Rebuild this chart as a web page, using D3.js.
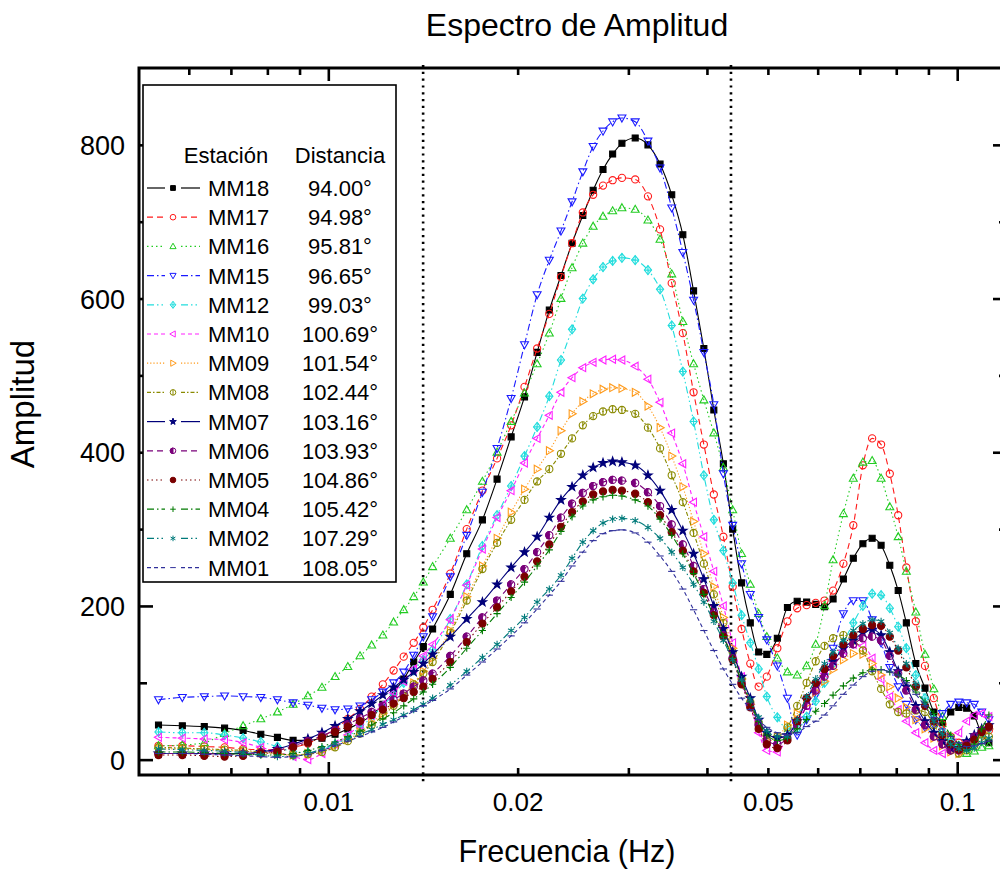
<!DOCTYPE html>
<html><head><meta charset="utf-8">
<script src="https://cdn.jsdelivr.net/npm/d3@7"></script>
<style>
body{margin:0;background:#fff}
svg{display:block}
text{font-family:"Liberation Sans",Arial,sans-serif;fill:#000}
</style>
</head><body>
<svg id="c" width="1000" height="869"></svg>
<script>
// ---------- data ----------
const freqs = [0.00537,0.00586,0.00635,0.00684,0.00732,0.00781,0.00830,0.00879,0.00928,0.00977,
0.01025,0.01074,0.01123,0.01172,0.01221,0.01270,0.01318,0.01367,0.01416,0.01465,
0.01563,0.01660,0.01758,0.01855,0.01953,0.02051,0.02148,0.02246,0.02344,0.02441,0.02539,0.02637,0.02734,0.02832,0.02930,
0.03076,0.03223,0.03369,0.03516,0.03662,0.03809,0.03955,0.04102,0.04248,0.04395,0.04541,0.04688,0.04834,0.04980,0.05176,0.05371,
0.05566,0.05762,0.05957,0.06152,0.06348,0.06592,0.06836,0.07080,0.07324,0.07568,0.07813,0.08057,0.08301,0.08594,0.08887,0.09180,0.09473,0.09766,0.10059,0.10352,0.10645,0.10938,0.11230];

const MM18 = [45,44,43,41,38,33,29,25,25,28,33,40,48,58,72,88,105,127,147,170,
215,268,312,365,420,472,530,585,630,672,708,741,768,788,802,
809,800,775,735,683,610,535,455,385,300,230,178,140,137,158,198,
206,205,202,199,209,235,262,281,288,279,253,220,178,125,93,62,48,62,68,67,57,33,22];
const MM17 = [18,18,17,16,14,13,13,16,21,30,40,53,66,82,98,116,134,152,172,195,
242,300,350,392,435,485,535,580,628,672,712,735,747,754,757,
755,733,690,620,555,478,410,345,290,225,170,125,95,108,145,180,
197,201,204,207,220,255,305,383,418,410,372,318,250,180,122,80,46,30,22,21,25,32,38];
const MM16 = [18,19,22,34,44,53,62,72,83,94,108,121,135,149,162,179,195,212,231,251,
288,325,362,400,440,477,515,555,600,640,672,694,707,714,718,
716,702,677,632,570,515,468,425,380,325,268,228,190,160,132,114,
110,122,150,200,260,320,366,387,389,366,329,290,245,192,137,92,56,29,15,8,11,16,18];
const MM15 = [78,81,82,83,82,81,78,74,71,67,65,66,70,78,88,100,114,136,160,186,
238,292,348,405,470,540,605,650,688,726,765,798,818,830,835,
830,805,770,718,660,598,530,462,372,305,255,215,185,156,122,80,
32,52,84,114,145,190,207,207,182,152,120,95,72,52,42,45,60,72,75,74,72,62,52];
const MM12 = [36,35,35,32,28,23,17,10,9,13,20,30,42,55,70,85,100,116,130,143,
183,228,278,318,356,395,433,473,520,560,600,625,641,649,653,
650,637,612,565,505,440,370,312,272,230,188,152,118,82,55,40,
40,56,76,100,125,152,178,200,216,214,197,173,145,110,80,53,36,23,18,17,21,32,40];
const MM10 = [29,28,27,26,22,16,10,4,0,8,20,32,45,58,72,87,102,118,135,150,
182,227,274,315,350,386,418,448,478,497,510,517,520,521,520,
512,495,465,425,385,335,290,245,200,152,108,70,35,12,10,30,
50,70,92,112,128,142,150,148,132,105,82,65,50,35,22,12,8,14,35,50,58,60,56];
const MM09 = [14,14,13,12,11,9,7,6,8,12,18,26,36,48,60,72,85,100,115,132,
168,212,252,288,322,352,378,402,428,450,466,476,482,484,483,
478,460,432,395,355,310,268,225,185,145,105,72,42,25,30,45,
60,72,88,102,117,130,138,137,125,110,95,80,68,52,40,28,18,10,8,18,28,35,40];
const MM08 = [16,15,14,13,12,10,8,6,7,10,16,24,34,45,57,70,83,98,112,127,
165,207,248,282,312,338,362,378,398,418,435,447,453,456,455,
450,432,405,370,335,295,255,215,178,140,105,75,48,32,30,42,
70,100,128,148,158,162,155,142,115,92,72,62,60,64,62,45,28,12,8,12,18,25,30];
const MM07 = [8,8,8,8,8,10,14,20,27,35,44,53,63,73,84,94,104,114,125,137,
160,183,205,228,250,270,290,315,338,355,370,380,386,388,387,
383,370,350,325,298,268,235,200,170,140,108,80,52,35,28,32,
50,78,98,115,128,145,155,165,169,162,140,115,95,70,50,35,24,15,15,24,32,40,45];
const MM06 = [8,8,8,7,7,9,12,18,24,31,38,46,54,62,70,78,86,95,103,112,
135,160,185,207,228,248,270,292,315,333,347,356,361,364,363,
360,348,330,306,280,252,222,192,162,132,100,72,45,25,20,28,
45,70,90,108,122,138,150,158,160,155,135,112,90,65,45,30,20,12,12,20,30,38,42];
const MM05 = [6,6,5,4,5,8,10,16,22,29,36,43,50,58,65,73,80,88,95,105,
127,153,177,198,219,238,258,280,303,322,336,345,349,351,350,
346,335,318,296,272,245,217,188,160,130,98,68,40,20,15,25,
50,80,100,118,135,150,162,170,175,174,160,142,120,95,70,50,32,20,13,18,26,36,43];
const MM04 = [10,10,9,8,7,6,6,8,12,17,23,30,37,45,53,61,70,79,88,98,
120,145,168,190,211,231,252,273,297,316,330,338,342,344,343,
338,330,313,292,268,242,215,187,160,132,102,75,50,32,25,28,
40,52,63,73,84,96,106,113,117,117,114,110,103,88,75,60,48,32,20,12,20,40,58];
const MM02 = [14,13,12,11,9,6,4,4,8,14,21,27,33,39,46,52,58,65,72,80,
97,115,133,150,168,185,205,222,240,262,283,298,308,313,314,
311,302,288,270,250,228,205,180,155,130,104,78,55,38,30,30,
52,82,105,125,140,155,168,177,182,180,165,145,125,98,72,50,33,20,14,12,15,22,28];
const MM01 = [8,8,7,6,5,4,3,4,7,12,18,24,30,36,42,49,56,63,70,77,
92,110,127,144,161,178,196,214,232,252,270,285,294,298,299,
295,283,265,245,222,195,168,142,118,98,80,65,52,42,35,32,
35,43,50,58,70,85,97,108,115,117,114,110,100,85,70,55,40,30,22,17,18,21,24];

const stations  = ["MM18","MM17","MM16","MM15","MM12","MM10","MM09","MM08","MM07","MM06","MM05","MM04","MM02","MM01"];
const distances = ["94.00°","94.98°","95.81°","96.65°","99.03°","100.69°","101.54°","102.44°","103.16°","103.93°","104.86°","105.42°","107.29°","108.05°"];
const seriesValues = [MM18,MM17,MM16,MM15,MM12,MM10,MM09,MM08,MM07,MM06,MM05,MM04,MM02,MM01];

const xLabelTicks = [0.01,0.02,0.05,0.1];
const xLabelText  = ["0.01","0.02","0.05","0.1"];
const xMajorTicks = [0.01,0.1];
const xMinorTicks = [0.006,0.007,0.008,0.009,0.02,0.03,0.04,0.05,0.06,0.07,0.08,0.09];
const yMajorTicks = [0,200,400,600,800];
const yMinorTicks = [100,300,500,700];
const refFreqs = [0.01415,0.04368];

// ---------- styles ----------
const styles = [
 {c:"#000000", dash:null,                 m:"square"},
 {c:"#ff1a1a", dash:"6,4",                m:"circle"},
 {c:"#22cc22", dash:"1.5,3",              m:"triUp"},
 {c:"#1a1aff", dash:"7,3,1.5,3",          m:"triDown"},
 {c:"#22dddd", dash:"7,3,1.5,3,1.5,3",    m:"diamond"},
 {c:"#ff22ff", dash:"4,3",                m:"triLeft"},
 {c:"#ff9a1a", dash:"1.2,2",              m:"triRight"},
 {c:"#8a8a00", dash:"4,2,1.5,2",          m:"circBar"},
 {c:"#00007a", dash:null,                 m:"star"},
 {c:"#7a007a", dash:"6,4",                m:"half"},
 {c:"#7a0000", dash:"1.5,3",              m:"dot"},
 {c:"#007a00", dash:"7,3,1.5,3",          m:"plus"},
 {c:"#007a7a", dash:"7,3,1.5,3,1.5,3",    m:"aster"},
 {c:"#30309a", dash:"4,3",                m:"dash"}
];

function markerParts(type, r){
  const circ = `M${r},0A${r},${r} 0 1,1 ${-r},0A${r},${r} 0 1,1 ${r},0Z`;
  switch(type){
    case "square": return [{d:`M${-r},${-r}h${2*r}v${2*r}h${-2*r}Z`, fill:true}];
    case "circle": return [{d:circ, fill:false}];
    case "dot": return [{d:circ, fill:true}];
    case "triUp": return [{d:`M0,${-r*1.15}L${r*1.1},${r*0.8}L${-r*1.1},${r*0.8}Z`, fill:false}];
    case "triDown": return [{d:`M0,${r*1.15}L${r*1.1},${-r*0.8}L${-r*1.1},${-r*0.8}Z`, fill:false}];
    case "triLeft": return [{d:`M${-r*1.15},0L${r*0.8},${-r*1.1}L${r*0.8},${r*1.1}Z`, fill:false}];
    case "triRight": return [{d:`M${r*1.15},0L${-r*0.8},${-r*1.1}L${-r*0.8},${r*1.1}Z`, fill:false}];
    case "diamond": return [{d:`M0,${-r*1.25}L${r},0L0,${r*1.25}L${-r},0Z`, fill:false},{d:`M0,${-r*1.25}V${r*1.25}M${-r},0H${r}`, fill:false}];
    case "circBar": return [{d:circ, fill:false},{d:`M0,${-r}V${r}`, fill:false}];
    case "half": return [{d:circ, fill:false},{d:`M0,${-r}A${r},${r} 0 0,0 0,${r}Z`, fill:true}];
    case "star": {
      let p=""; for(let i=0;i<10;i++){const a=-Math.PI/2+i*Math.PI/5; const rr=i%2?r*0.5:r*1.25; p+=(i?"L":"M")+(rr*Math.cos(a)).toFixed(2)+","+(rr*Math.sin(a)).toFixed(2);} 
      return [{d:p+"Z", fill:true}];
    }
    case "plus": return [{d:`M${-r},0H${r}M0,${-r}V${r}`, fill:false}];
    case "aster": {const a=r*0.87,b=r*0.5; return [{d:`M0,${-r}V${r}M${-a},${-b}L${a},${b}M${-a},${b}L${a},${-b}`, fill:false}];}
    case "dash": return [{d:`M${-r},0H${r}`, fill:false}];
  }
}

// ---------- scales ----------
const svg = d3.select("#c");
const x = d3.scaleLog().domain([0.005,0.12]).range([139,1007]);
const y = d3.scaleLinear().domain([-20,900]).range([775,68]);

svg.append("defs").append("clipPath").attr("id","plotClip")
  .append("rect").attr("x",140).attr("y",69).attr("width",866).attr("height",705);

// reference dotted lines
svg.append("g").selectAll("line").data(refFreqs).join("line")
  .attr("x1",d=>x(d)).attr("x2",d=>x(d)).attr("y1",65).attr("y2",784)
  .attr("stroke","#000").attr("stroke-width",2.6).attr("stroke-dasharray","2.2,4.6");

// curves
const plot = svg.append("g").attr("clip-path","url(#plotClip)");
const lineGen = d3.line().x(d=>x(d[0])).y(d=>y(d[1])).curve(d3.curveMonotoneX);
seriesValues.forEach((vals,si)=>{
  const st = styles[si];
  const pts = freqs.map((f,i)=>[f,vals[i]]);
  const g = plot.append("g");
  g.append("path").attr("d",lineGen(pts)).attr("fill","none").attr("stroke",st.c)
    .attr("stroke-width",1.1).attr("stroke-dasharray",st.dash);
  const parts = markerParts(st.m, st.m==="square"?3.0:3.6);
  const mg = g.append("g").selectAll("g").data(pts).join("g")
    .attr("transform",d=>`translate(${x(d[0])},${y(d[1])})`);
  parts.forEach(p=>{
    mg.append("path").attr("d",p.d).attr("fill",p.fill?st.c:"none")
      .attr("stroke",st.c).attr("stroke-width",1.1);
  });
});

// axes ticks (inward)
function ticks(gen, vals, size, tr){
  const g = svg.append("g").attr("transform",tr)
    .call(gen.tickValues(vals).tickSize(size).tickFormat(""));
  g.select(".domain").remove();
  g.selectAll("line").attr("stroke","#000").attr("stroke-width",2.6);
}
ticks(d3.axisBottom(x), xMajorTicks, -13, "translate(0,775)");
ticks(d3.axisBottom(x), xMinorTicks, -7,  "translate(0,775)");
ticks(d3.axisTop(x),    xMajorTicks, -13, "translate(0,68)");
ticks(d3.axisTop(x),    xMinorTicks, -7,  "translate(0,68)");
ticks(d3.axisLeft(y),   yMajorTicks, -14, "translate(139,0)");
ticks(d3.axisLeft(y),   yMinorTicks, -8,  "translate(139,0)");
ticks(d3.axisRight(y),  yMajorTicks, -14, "translate(1007,0)");
ticks(d3.axisRight(y),  yMinorTicks, -8,  "translate(1007,0)");

// frame
svg.append("rect").attr("x",139).attr("y",68).attr("width",868).attr("height",707)
  .attr("fill","none").attr("stroke","#000").attr("stroke-width",3);

// tick labels
const xl = svg.append("g").attr("transform","translate(0,775)")
  .call(d3.axisBottom(x).tickValues(xLabelTicks).tickSize(0).tickFormat((d,i)=>xLabelText[i]));
xl.select(".domain").remove();
xl.selectAll("text").attr("y",36).attr("dy",null).attr("font-size",26).attr("fill","#000");

const yl = svg.append("g").attr("transform","translate(139,0)")
  .call(d3.axisLeft(y).tickValues(yMajorTicks).tickSize(0).tickFormat(d3.format("d")));
yl.select(".domain").remove();
yl.selectAll("text").attr("x",-14).attr("dy","0.36em").attr("font-size",27).attr("fill","#000");

// titles
svg.append("text").attr("x",577).attr("y",36).attr("text-anchor","middle").attr("font-size",32).text("Espectro de Amplitud");
svg.append("text").attr("x",567).attr("y",862).attr("text-anchor","middle").attr("font-size",30.5).text("Frecuencia (Hz)");
svg.append("text").attr("transform","translate(34,404) rotate(-90)").attr("text-anchor","middle").attr("font-size",33).text("Amplitud");

// legend
const lg = svg.append("g");
lg.append("rect").attr("x",143).attr("y",85).attr("width",253).attr("height",497)
  .attr("fill","#fff").attr("stroke","#000").attr("stroke-width",1.6);
lg.append("text").attr("x",226).attr("y",163).attr("text-anchor","middle").attr("font-size",22).text("Estación");
lg.append("text").attr("x",340).attr("y",163).attr("text-anchor","middle").attr("font-size",22).text("Distancia");
stations.forEach((s,i)=>{
  const st = styles[i];
  const cy = 188 + i*29.2;
  const row = lg.append("g");
  [[147,165],[181,200]].forEach(([a,b])=>{
    row.append("line").attr("x1",a).attr("x2",b).attr("y1",cy).attr("y2",cy)
      .attr("stroke",st.c).attr("stroke-width",1.2).attr("stroke-dasharray",st.dash);
  });
  markerParts(st.m, st.m==="square"?2.4:2.8).forEach(p=>{
    row.append("path").attr("transform",`translate(173,${cy})`).attr("d",p.d)
      .attr("fill",p.fill?st.c:"none").attr("stroke",st.c).attr("stroke-width",1);
  });
  row.append("text").attr("x",208).attr("y",cy+8).attr("font-size",22).text(s);
  row.append("text").attr("x",340).attr("y",cy+8).attr("text-anchor","middle").attr("font-size",22).text(distances[i]);
});
</script>
</body></html>
